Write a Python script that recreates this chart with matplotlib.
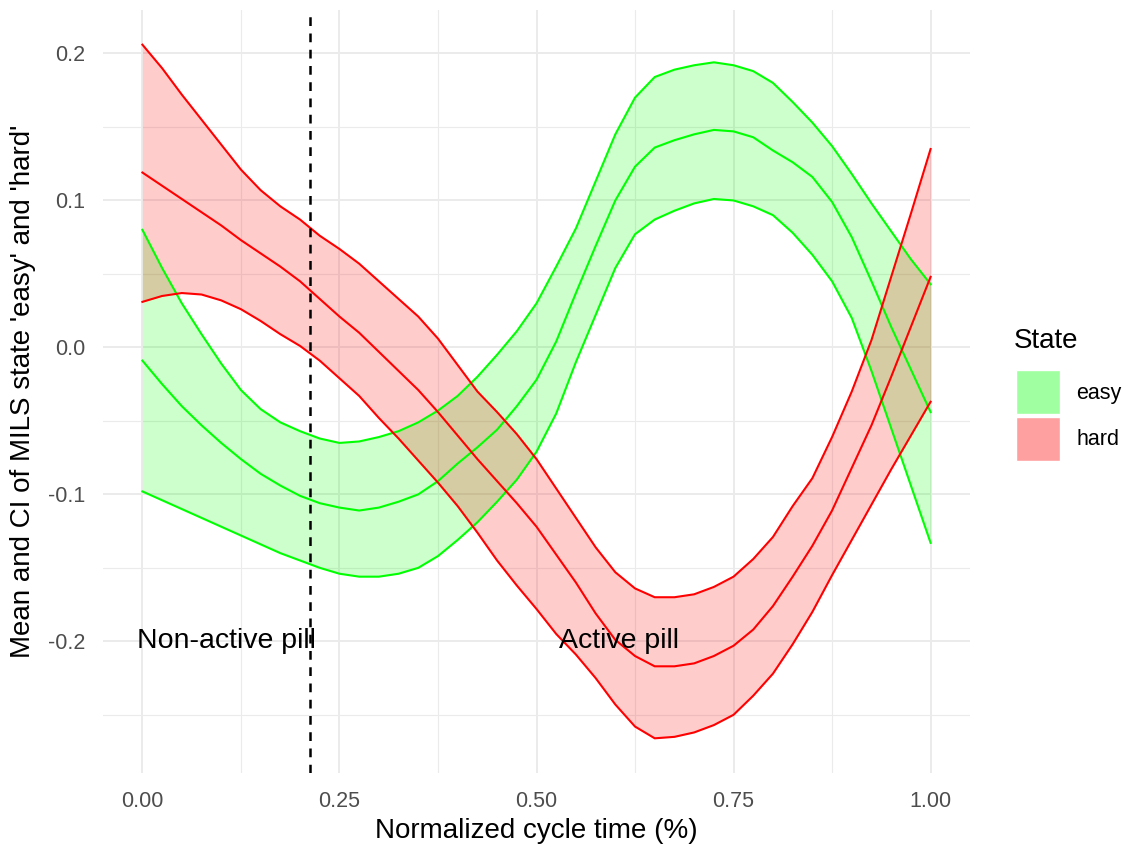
import numpy as np
import matplotlib
matplotlib.use("Agg")
import matplotlib.pyplot as plt
from matplotlib.patches import Rectangle

plt.rcParams['font.family'] = ['Liberation Sans', 'DejaVu Sans']

# normalized cycle time (step 0.025)
cycle = np.linspace(0, 1, 41)

easy_upper = [0.080, 0.054, 0.030, 0.009, -0.011, -0.029, -0.042, -0.051, -0.057, -0.062,
              -0.065, -0.064, -0.061, -0.057, -0.051, -0.043, -0.033, -0.020, -0.005, 0.011,
              0.030, 0.055, 0.081, 0.113, 0.145, 0.170, 0.184, 0.189, 0.192, 0.194,
              0.192, 0.188, 0.180, 0.167, 0.153, 0.137, 0.118, 0.098, 0.079, 0.060, 0.043]
easy_mean = [-0.009, -0.025, -0.040, -0.053, -0.065, -0.076, -0.086, -0.094, -0.101, -0.106,
             -0.109, -0.111, -0.109, -0.105, -0.100, -0.091, -0.079, -0.068, -0.056, -0.040,
             -0.022, 0.004, 0.037, 0.069, 0.100, 0.123, 0.136, 0.141, 0.145, 0.148,
             0.147, 0.143, 0.134, 0.126, 0.116, 0.099, 0.075, 0.045, 0.014, -0.015, -0.044]
easy_lower = [-0.098, -0.104, -0.110, -0.116, -0.122, -0.128, -0.134, -0.140, -0.145, -0.150,
              -0.154, -0.156, -0.156, -0.154, -0.150, -0.142, -0.131, -0.119, -0.105, -0.090,
              -0.071, -0.045, -0.010, 0.022, 0.054, 0.077, 0.087, 0.093, 0.098, 0.101,
              0.100, 0.096, 0.090, 0.078, 0.063, 0.045, 0.020, -0.016, -0.055, -0.094, -0.133]

hard_upper = [0.206, 0.190, 0.172, 0.155, 0.138, 0.121, 0.107, 0.096, 0.087, 0.076,
              0.067, 0.057, 0.045, 0.033, 0.021, 0.006, -0.012, -0.030, -0.044, -0.059,
              -0.076, -0.096, -0.116, -0.136, -0.153, -0.164, -0.170, -0.170, -0.168, -0.163,
              -0.156, -0.144, -0.129, -0.108, -0.089, -0.061, -0.030, 0.005, 0.048, 0.091, 0.135]
hard_mean = [0.119, 0.110, 0.101, 0.092, 0.083, 0.073, 0.064, 0.055, 0.045, 0.033,
             0.021, 0.010, -0.003, -0.016, -0.029, -0.044, -0.060, -0.076, -0.091, -0.106,
             -0.122, -0.141, -0.160, -0.181, -0.199, -0.210, -0.217, -0.217, -0.215, -0.210,
             -0.203, -0.192, -0.176, -0.156, -0.135, -0.111, -0.082, -0.053, -0.020, 0.014, 0.048]
hard_lower = [0.031, 0.035, 0.037, 0.036, 0.032, 0.026, 0.018, 0.009, 0.001, -0.009,
              -0.021, -0.033, -0.048, -0.062, -0.077, -0.092, -0.108, -0.126, -0.145, -0.162,
              -0.178, -0.195, -0.209, -0.225, -0.243, -0.258, -0.266, -0.265, -0.262, -0.257,
              -0.250, -0.237, -0.222, -0.202, -0.180, -0.155, -0.131, -0.107, -0.083, -0.060, -0.037]

states = ["easy", "hard"]
colors = {"easy": "#00ff00", "hard": "#ff0000"}
key_colors = {"easy": "#a0ffa0", "hard": "#ffa0a0"}
pill_switch = 0.212
annotations = [("Non-active pill", 0.106, -0.2), ("Active pill", 0.605, -0.2)]

W, H = 1128, 851
fig = plt.figure(figsize=(W / 100, H / 100), dpi=100)
ax = fig.add_axes([103 / W, 1 - 773 / H, 867 / W, 763 / H])

bands = {"easy": (easy_lower, easy_mean, easy_upper),
         "hard": (hard_lower, hard_mean, hard_upper)}
for st in states:
    lo, mid, up = bands[st]
    ax.fill_between(cycle, lo, up, color=colors[st], alpha=0.2, lw=0, zorder=2)
    for s in (lo, mid, up):
        ax.plot(cycle, s, color=colors[st], lw=1.5, zorder=3)

ax.axvline(pill_switch, color="black", lw=1.8, ls=(0, (3.5, 3)), zorder=4)
for txt, x, y in annotations:
    ax.text(x, y, txt, ha="center", va="center", fontsize=20.5, color="black", zorder=5)

allv = np.concatenate([easy_lower, easy_upper, hard_lower, hard_upper])
rng = allv.max() - allv.min()
ax.set_ylim(allv.min() - 0.05 * rng, allv.max() + 0.05 * rng)
ax.set_xlim(-0.05, 1.05)

ax.set_xticks([0, 0.25, 0.5, 0.75, 1.0])
ax.set_xticklabels(["0.00", "0.25", "0.50", "0.75", "1.00"])
ax.set_xticks([0.125, 0.375, 0.625, 0.875], minor=True)
ax.set_yticks([-0.2, -0.1, 0.0, 0.1, 0.2])
ax.set_yticklabels(["-0.2", "-0.1", "0.0", "0.1", "0.2"])
ax.set_yticks([-0.25, -0.15, -0.05, 0.05, 0.15], minor=True)
ax.grid(which="major", color="#ebebeb", lw=1.4, zorder=0)
ax.grid(which="minor", color="#ebebeb", lw=0.8, zorder=0)
ax.set_axisbelow(True)
for sp in ax.spines.values():
    sp.set_visible(False)
ax.tick_params(which="both", length=0, labelsize=15.5, labelcolor="#4d4d4d")
ax.tick_params(axis="x", pad=13)
ax.tick_params(axis="y", pad=13)

ax.set_xlabel("Normalized cycle time (%)", fontsize=20, labelpad=4)
ax.set_ylabel("Mean and CI of MILS state 'easy' and 'hard'", fontsize=20, labelpad=8)

# legend
fig.text(1014 / W, 1 - 341 / H, "State", fontsize=20, va="center", ha="left")
for i, st in enumerate(states):
    top = 370 + i * 47
    fig.add_artist(Rectangle((1016 / W, 1 - (top + 44) / H), 44 / W, 44 / H,
                             transform=fig.transFigure, facecolor=key_colors[st],
                             edgecolor="white", lw=1))
    fig.text(1076 / W, 1 - (top + 23) / H, st, fontsize=15.5, va="center", ha="left")

fig.savefig("out.png", dpi=100)
